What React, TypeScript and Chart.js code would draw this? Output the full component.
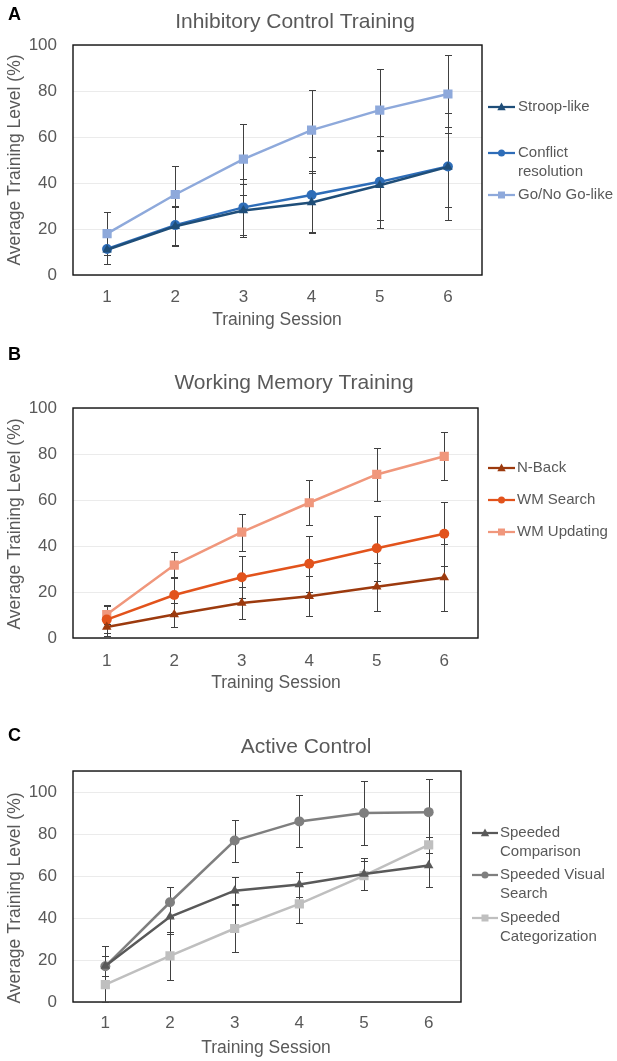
import React, { useEffect, useRef } from 'react';
import { Chart, registerables } from 'chart.js';

Chart.register(...registerables);

// ---------- data ----------
const sessions = ['1', '2', '3', '4', '5', '6'];
const yTicks = [0, 20, 40, 60, 80, 100];

// Panel A – Inhibitory Control Training
const stroopLike = [11, 21.2, 28, 31.5, 39, 47];
const stroopLikeErr = [6.3, 8.5, 11.4, 13, 15.3, 17.3];
const conflictResolution = [11.3, 21.7, 29.4, 34.8, 40.5, 47.2];
const conflictResolutionErr = [6.5, 8.5, 12.2, 16.6, 20, 23.4];
const goNoGoLike = [18, 35, 50.4, 63, 71.7, 78.7];
const goNoGoLikeErr = [9.5, 12.3, 15.4, 17.6, 18, 17];

// Panel B – Working Memory Training
const nBack = [4.8, 10.2, 15.2, 18.2, 22.3, 26.3];
const nBackErr = [4, 5.2, 7, 8.6, 10.5, 14.7];
const wmSearch = [8, 18.7, 26.4, 32.3, 39, 45.3];
const wmSearchErr = [6, 8, 9.1, 12.2, 14, 14];
const wmUpdating = [10.2, 31.7, 46, 58.8, 71.1, 79];
const wmUpdatingErr = [4, 5.7, 8, 9.8, 11.4, 10.5];

// Panel C – Active Control
const speededComparison = [17.2, 40.6, 53, 56, 61, 65];
const speededComparisonErr = [4.6, 8, 6.4, 6, 7.8, 10];
const speededVisualSearch = [17, 47.5, 76.9, 86, 90, 90.4];
const speededVisualSearchErr = [9.7, 7.2, 10, 12.4, 15, 15.8];
const speededCategorization = [8.3, 22, 35, 46.7, 60.2, 74.8];
const speededCategorizationErr = [8.3, 11.3, 11.1, 9, 7, 4];

// ---------- styling ----------
const FONT = '"Liberation Sans", Arial, Helvetica, sans-serif';
const TEXT = '#595959';

type Shape = 'triangle' | 'circle' | 'rect';
type Series = { label: string[]; data: number[]; err: number[]; color: string; shape: Shape };
type PanelCfg = {
  letter: string;
  letterY: number;
  title: string;
  titleX: number;
  titleY: number;
  height: number;
  area: { left: number; top: number; right: number; bottom: number };
  yMax: number;
  xTickPad: number;
  xTitleX: number;
  xTitleY: number;
  yTitleY: number;
  legendX0: number;
  legendX1: number;
  legendTextX: number;
  legendYs: number[];
  series: Series[];
};

const panels: PanelCfg[] = [
  {
    letter: 'A', letterY: 15, title: 'Inhibitory Control Training', titleX: 295, titleY: 22,
    height: 340, area: { left: 73, top: 45, right: 482, bottom: 275 }, yMax: 100, xTickPad: 4,
    xTitleX: 277, xTitleY: 320, yTitleY: 160,
    legendX0: 488, legendX1: 515, legendTextX: 518, legendYs: [107, 153, 195],
    series: [
      { label: ['Stroop-like'], data: stroopLike, err: stroopLikeErr, color: '#1F4E79', shape: 'triangle' },
      { label: ['Conflict', 'resolution'], data: conflictResolution, err: conflictResolutionErr, color: '#2E6DB8', shape: 'circle' },
      { label: ['Go/No Go-like'], data: goNoGoLike, err: goNoGoLikeErr, color: '#8EA9DB', shape: 'rect' },
    ],
  },
  {
    letter: 'B', letterY: 15, title: 'Working Memory Training', titleX: 294, titleY: 43,
    height: 360, area: { left: 73, top: 68, right: 478, bottom: 298 }, yMax: 100, xTickPad: 5,
    xTitleX: 276, xTitleY: 343, yTitleY: 184,
    legendX0: 488, legendX1: 515, legendTextX: 517, legendYs: [128, 160, 192],
    series: [
      { label: ['N-Back'], data: nBack, err: nBackErr, color: '#9C3A0E', shape: 'triangle' },
      { label: ['WM Search'], data: wmSearch, err: wmSearchErr, color: '#E2531C', shape: 'circle' },
      { label: ['WM Updating'], data: wmUpdating, err: wmUpdatingErr, color: '#F0977C', shape: 'rect' },
    ],
  },
  {
    letter: 'C', letterY: 36, title: 'Active Control', titleX: 306, titleY: 47,
    height: 361, area: { left: 73, top: 71, right: 461, bottom: 302 }, yMax: 110, xTickPad: 3,
    xTitleX: 266, xTitleY: 348, yTitleY: 198,
    legendX0: 472, legendX1: 498, legendTextX: 500, legendYs: [133, 175, 218],
    series: [
      { label: ['Speeded', 'Comparison'], data: speededComparison, err: speededComparisonErr, color: '#595959', shape: 'triangle' },
      { label: ['Speeded Visual', 'Search'], data: speededVisualSearch, err: speededVisualSearchErr, color: '#7F7F7F', shape: 'circle' },
      { label: ['Speeded', 'Categorization'], data: speededCategorization, err: speededCategorizationErr, color: '#BFBFBF', shape: 'rect' },
    ],
  },
];

function drawMarker(ctx: CanvasRenderingContext2D, shape: Shape, x: number, y: number, r: number, color: string) {
  ctx.fillStyle = color;
  ctx.beginPath();
  if (shape === 'circle') {
    ctx.arc(x, y, r, 0, Math.PI * 2);
  } else if (shape === 'rect') {
    ctx.rect(x - r, y - r, 2 * r, 2 * r);
  } else {
    ctx.moveTo(x, y - r * 1.1);
    ctx.lineTo(x + r, y + r * 0.75);
    ctx.lineTo(x - r, y + r * 0.75);
    ctx.closePath();
  }
  ctx.fill();
}

function PanelChart({ cfg }: { cfg: PanelCfg }) {
  const ref = useRef<HTMLCanvasElement | null>(null);

  useEffect(() => {
    const canvas = ref.current;
    if (!canvas) return;
    const W = 617;
    const H = cfg.height;

    const decoPlugin = {
      id: 'deco' + cfg.letter,
      beforeDatasetsDraw(chart: any) {
        const { ctx, chartArea: a } = chart;
        const ys = chart.scales.y;
        ctx.save();
        // plot border
        ctx.strokeStyle = '#111111';
        ctx.lineWidth = 1.4;
        ctx.strokeRect(a.left, a.top, a.right - a.left, a.bottom - a.top);
        // error bars
        ctx.strokeStyle = '#404040';
        ctx.lineWidth = 1;
        chart.data.datasets.forEach((ds: any, i: number) => {
          const meta = chart.getDatasetMeta(i);
          meta.data.forEach((pt: any, j: number) => {
            const v = ds.data[j];
            const e = ds.errors[j];
            const x = Math.round(pt.x) + 0.5;
            const yt = Math.round(ys.getPixelForValue(v + e)) + 0.5;
            const yb = Math.round(ys.getPixelForValue(Math.max(0, v - e))) + 0.5;
            ctx.beginPath();
            ctx.moveTo(x, yt);
            ctx.lineTo(x, yb);
            ctx.moveTo(x - 3.5, yt);
            ctx.lineTo(x + 3.5, yt);
            ctx.moveTo(x - 3.5, yb);
            ctx.lineTo(x + 3.5, yb);
            ctx.stroke();
          });
        });
        ctx.restore();
      },
      afterDraw(chart: any) {
        const { ctx } = chart;
        ctx.save();
        // panel letter
        ctx.fillStyle = '#000000';
        ctx.font = `bold 18px ${FONT}`;
        ctx.textAlign = 'left';
        ctx.textBaseline = 'middle';
        ctx.fillText(cfg.letter, 8, cfg.letterY);
        // title
        ctx.fillStyle = TEXT;
        ctx.font = `21px ${FONT}`;
        ctx.textAlign = 'center';
        ctx.fillText(cfg.title, cfg.titleX, cfg.titleY);
        // x axis title
        ctx.font = `17.5px ${FONT}`;
        ctx.fillText('Training Session', cfg.xTitleX, cfg.xTitleY);
        // y axis title
        ctx.save();
        ctx.translate(15, cfg.yTitleY);
        ctx.rotate(-Math.PI / 2);
        ctx.fillText('Average Training Level (%)', 0, 0);
        ctx.restore();
        // legend
        ctx.font = `15px ${FONT}`;
        ctx.textAlign = 'left';
        cfg.series.forEach((s, i) => {
          const y = cfg.legendYs[i];
          ctx.strokeStyle = s.color;
          ctx.lineWidth = 2.25;
          ctx.beginPath();
          ctx.moveTo(cfg.legendX0, y);
          ctx.lineTo(cfg.legendX1, y);
          ctx.stroke();
          const mx = (cfg.legendX0 + cfg.legendX1) / 2;
          drawMarker(ctx, s.shape, mx, y, s.shape === 'circle' ? 3.5 : s.shape === 'rect' ? 3.5 : 4.2, s.color);
          ctx.fillStyle = TEXT;
          s.label.forEach((line, k) => {
            ctx.fillText(line, cfg.legendTextX, y + k * 18.5);
          });
        });
        ctx.restore();
      },
    };

    const chart = new Chart(canvas, {
      type: 'line',
      data: {
        labels: sessions,
        datasets: cfg.series.map((s) => ({
          label: s.label.join(' '),
          data: s.data,
          errors: s.err,
          borderColor: s.color,
          backgroundColor: s.color,
          pointBackgroundColor: s.color,
          pointBorderColor: s.color,
          pointBorderWidth: 0,
          pointStyle: s.shape,
          pointRadius: s.shape === 'rect' ? 6.5 : s.shape === 'circle' ? 5 : 5.5,
          borderWidth: 2.5,
          tension: 0,
          fill: false,
        })) as any,
      },
      options: {
        responsive: false,
        animation: false,
        devicePixelRatio: 1,
        layout: {
          padding: { left: 0, top: cfg.area.top, right: W - cfg.area.right, bottom: 0 },
        },
        plugins: {
          legend: { display: false },
          title: { display: false },
          tooltip: { enabled: false },
        },
        scales: {
          x: {
            type: 'category',
            offset: true,
            grid: { display: false },
            border: { display: false },
            ticks: {
              color: TEXT,
              font: { family: FONT, size: 17 },
              padding: cfg.xTickPad,
              maxRotation: 0,
            },
            afterFit: (s: any) => {
              s.height = H - cfg.area.bottom;
            },
          },
          y: {
            type: 'linear',
            min: 0,
            max: cfg.yMax,
            bounds: 'data',
            grid: { color: '#EBEBEB', lineWidth: 1, drawTicks: false },
            border: { display: false },
            ticks: {
              stepSize: 20,
              includeBounds: false,
              color: TEXT,
              font: { family: FONT, size: 17 },
              padding: 16,
              callback: (v: any) => (yTicks.includes(Number(v)) ? String(v) : ''),
            },
            afterFit: (s: any) => {
              s.width = cfg.area.left;
            },
          },
        },
      } as any,
      plugins: [decoPlugin],
    });
    return () => chart.destroy();
  }, [cfg]);

  return (
    <canvas
      ref={ref}
      width={617}
      height={cfg.height}
      style={{ display: 'block', width: 617, height: cfg.height }}
    />
  );
}

export default function App() {
  return (
    <div style={{ position: 'absolute', left: 0, top: 0, width: 617, height: 1061, background: '#ffffff' }}>
      {panels.map((p) => (
        <PanelChart key={p.letter} cfg={p} />
      ))}
    </div>
  );
}
